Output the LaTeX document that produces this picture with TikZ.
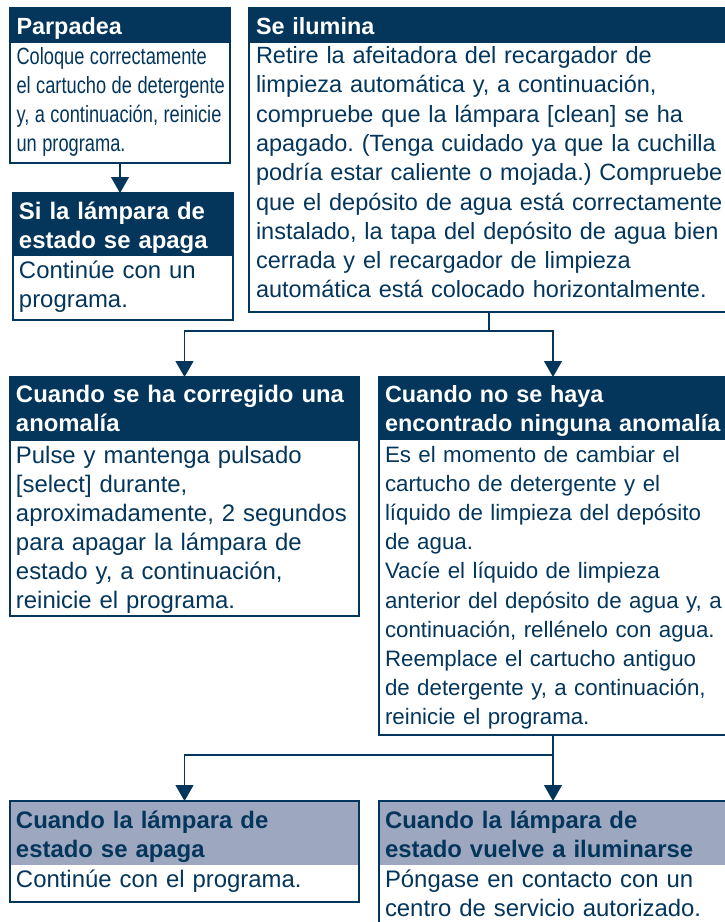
\documentclass[tikz,border=0pt]{standalone}
\usepackage{fontspec}
\setmainfont{Liberation Sans}
\newfontfamily\condfont[FakeStretch=0.777]{Liberation Sans}
\usetikzlibrary{arrows.meta}
\definecolor{navy}{HTML}{04365C}
\definecolor{lighthdr}{HTML}{9DA7BF}
\frenchspacing
\hyphenpenalty=10000
\exhyphenpenalty=10000
\tikzset{
  boxnode/.style={inner sep=0pt, outer sep=0pt, rectangle},
  boxline/.style={draw=navy, line width=1.3pt},
  darkhdr/.style={fill=navy},
  lighthdr/.style={fill=lighthdr},
  conn/.style={draw=navy, line width=1.3pt},
  arr/.style={conn, -{Triangle[width=18pt,length=16pt]}},
  txt/.style={anchor=base west, inner sep=0pt, outer sep=0pt, text width=640pt, align=left},
  hdrtxt/.style={txt, font=\fontsize{23.4}{29}\selectfont\bfseries},
  bighdr/.style={txt, font=\fontsize{23.9}{29}\selectfont\bfseries},
  whitehdr/.style={hdrtxt, text=white},
  whitebighdr/.style={bighdr, text=white},
  navyhdr/.style={bighdr, text=navy},
  bodytxt/.style={txt, text=navy, font=\fontsize{23.5}{29.2}\selectfont},
  bigbody/.style={txt, text=navy, font=\fontsize{23.9}{29}\selectfont},
  smallbody/.style={txt, text=navy, font=\fontsize{22.3}{29.2}\selectfont},
  condtxt/.style={txt, text=navy, font=\fontsize{23.5}{29.2}\selectfont\condfont},
}
\newcommand\flowbox[7]{%
  \node[boxnode, minimum width=#4pt, minimum height=#5pt, anchor=north west] (#1) at (#2,#3) {};
  \fill[#7] (#1.north west) rectangle ([yshift=-#6pt]#1.north east);
  \draw[boxline] (#1.north west) rectangle (#1.south east);
}
\begin{document}
\begin{tikzpicture}[x=1pt, y=-1pt]
\useasboundingbox (0,0) rectangle (725,922);
\fill[white] (0,0) rectangle (725,922);

% boxes
\flowbox{b1}{10}{8}{220}{155}{35}{darkhdr}
\flowbox{b2}{13}{193}{220}{127}{63}{darkhdr}
\flowbox{b3}{249}{8}{480}{304}{35}{darkhdr}
\flowbox{b4}{10}{377}{349}{239}{64}{darkhdr}
\flowbox{b5}{379}{377}{348}{358}{63}{darkhdr}
\flowbox{b6}{10}{801}{349}{101}{64}{lighthdr}
\flowbox{b7}{379}{801}{348}{140}{64}{lighthdr}

% texts
\node[whitehdr] (t1h) at (16.5,34.5) {Parpadea};
\node[condtxt] (t1b) at (16.5,64) {\spaceskip=5.5pt\relax Coloque correctamente\\el cartucho de detergente\\y, a continuación, reinicie\\un programa.};

\node[whitebighdr] (t2h) at (19,219) {Si la lámpara de\\estado se apaga};
\node[bigbody] (t2b) at (19,278) {Continúe con un\\programa.};

\node[whitehdr] (t3h) at (256,34.5) {Se ilumina};
\node[bodytxt, font=\fontsize{23.5}{29.3}\selectfont] (t3b) at (256,63.5) {Retire la afeitadora del recargador de\\limpieza automática y, a continuación,\\compruebe que la lámpara [clean] se ha\\apagado. (Tenga cuidado ya que la cuchilla\\podría estar caliente o mojada.) Compruebe\\que el depósito de agua está correctamente\\instalado, la tapa del depósito de agua bien\\cerrada y el recargador de limpieza\\automática está colocado horizontalmente.};

\node[whitebighdr] (t4h) at (16,402) {Cuando se ha corregido una\\anomalía};
\node[bigbody] (t4b) at (16,463) {Pulse y mantenga pulsado\\{[select]} durante,\\aproximadamente, 2 segundos\\para apagar la lámpara de\\estado y, a continuación,\\reinicie el programa.};

\node[whitehdr] (t5h) at (385,402) {Cuando no se haya\\encontrado ninguna anomalía};
\node[smallbody] (t5b) at (385,462) {Es el momento de cambiar el\\cartucho de detergente y el\\líquido de limpieza del depósito\\de agua.\\Vacíe el líquido de limpieza\\anterior del depósito de agua y, a\\continuación, rellénelo con agua.\\Reemplace el cartucho antiguo\\de detergente y, a continuación,\\reinicie el programa.};

\node[navyhdr] (t6h) at (16,828) {Cuando la lámpara de\\estado se apaga};
\node[bigbody] (t6b) at (16,887) {Continúe con el programa.};

\node[navyhdr] (t7h) at (385,828) {Cuando la lámpara de\\estado vuelve a iluminarse};
\node[bigbody] (t7b) at (385,887) {Póngase en contacto con un\\centro de servicio autorizado.};

% connectors
\draw[arr] (b1.south) -- (b1.south |- b2.north);
\coordinate (j1) at ([yshift=-19pt]b3.south);
\draw[conn] (b3.south) -- (j1);
\draw[arr] (j1) -| (b4.north);
\draw[arr] (j1) -| (b5.north);
\coordinate (j2) at ([yshift=-20pt]b5.south);
\draw[arr] (b5.south) -- (b7.north);
\draw[arr] (j2) -| (b6.north);
\end{tikzpicture}
\end{document}
